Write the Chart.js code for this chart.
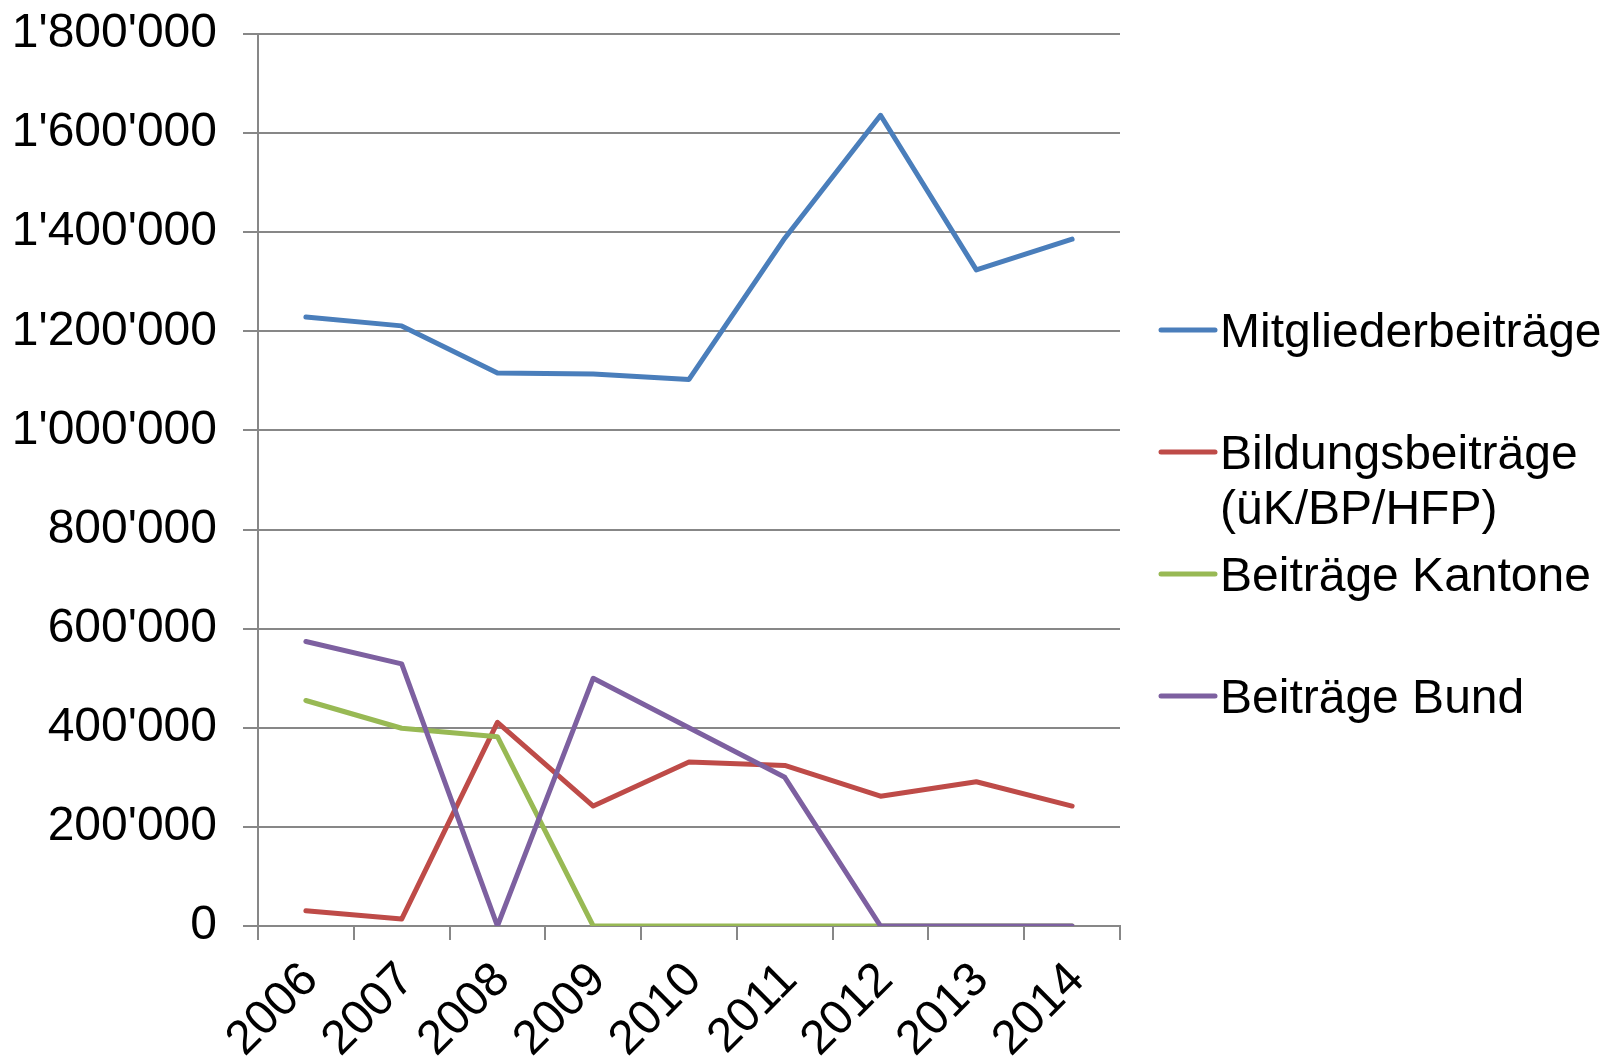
<!DOCTYPE html>
<html lang="de">
<head>
    <meta charset="UTF-8">
    <title>Beiträge 2006-2014</title>
    <script src="https://cdn.jsdelivr.net/npm/chart.js"></script>
    <style>
        html, body { margin: 0; padding: 0; background: #fff; }
        #wrap { width: 1606px; height: 1061px; }
    </style>
</head>
<body>
    <div id="wrap"><canvas id="chart" width="1606" height="1061"></canvas></div>

    <script>
        const years = ['2006', '2007', '2008', '2009', '2010', '2011', '2012', '2013', '2014'];
        const mitglieder = [1229000, 1211000, 1116000, 1114000, 1103000, 1388000, 1636000, 1324000, 1386000];
        const bildung = [31000, 14000, 411000, 242000, 331000, 324000, 262000, 291000, 242000];
        const kantone = [455000, 399000, 382000, 0, 0, 0, 0, 0, 0];
        const bund = [574000, 529000, 0, 500000, 400000, 300000, 0, 0, 0];
        const seriesNames = ['Mitgliederbeiträge', ['Bildungsbeiträge', '(üK/BP/HFP)'], 'Beiträge Kantone', 'Beiträge Bund'];
        const colors = ['#4a7ebb', '#be4b48', '#98b954', '#7d60a0'];

        const font = 'Arial, "Liberation Sans", sans-serif';
        const gridColor = '#878787';

        // legend drawn by hand: Excel spaces the entries unevenly
        const legendRows = [330, 452, 574, 696];
        const sideLegend = {
            id: 'sideLegend',
            afterDraw(chart) {
                const ctx = chart.ctx;
                ctx.save();
                ctx.font = '48px ' + font;
                ctx.fillStyle = '#000';
                ctx.textBaseline = 'alphabetic';
                seriesNames.forEach((name, i) => {
                    const y = legendRows[i];
                    ctx.strokeStyle = colors[i];
                    ctx.lineWidth = 5;
                    ctx.lineCap = 'round';
                    ctx.beginPath();
                    ctx.moveTo(1161, y);
                    ctx.lineTo(1215, y);
                    ctx.stroke();
                    const lines = Array.isArray(name) ? name : [name];
                    lines.forEach((t, j) => ctx.fillText(t, 1220, y + 17 + j * 55));
                });
                ctx.restore();
            }
        };

        function line(label, data, color, order) {
            return {
                label: label,
                data: data,
                borderColor: color,
                backgroundColor: color,
                borderWidth: 5,
                pointRadius: 0,
                tension: 0,
                fill: false,
                borderCapStyle: 'round',
                borderJoinStyle: 'round',
                order: order
            };
        }

        new Chart(document.getElementById('chart'), {
            type: 'line',
            data: {
                labels: years,
                datasets: [
                    line('Mitgliederbeiträge', mitglieder, colors[0], 4),
                    line('Bildungsbeiträge (üK/BP/HFP)', bildung, colors[1], 3),
                    line('Beiträge Kantone', kantone, colors[2], 2),
                    line('Beiträge Bund', bund, colors[3], 1)
                ]
            },
            options: {
                responsive: false,
                animation: false,
                devicePixelRatio: 1,
                layout: { padding: { top: 34, right: 486, left: 0, bottom: 0 } },
                plugins: {
                    legend: { display: false },
                    tooltip: { enabled: false }
                },
                scales: {
                    x: {
                        offset: true,
                        grid: {
                            offset: true,
                            drawOnChartArea: false,
                            drawTicks: true,
                            tickLength: 14,
                            color: gridColor,
                            lineWidth: 2
                        },
                        border: { color: gridColor, width: 2 },
                        ticks: {
                            color: '#000',
                            font: { family: font, size: 48 },
                            maxRotation: 45,
                            minRotation: 45,
                            autoSkip: false,
                            padding: 12,
                            labelOffset: 5
                        },
                        afterFit(scale) { scale.height = 135; }
                    },
                    y: {
                        min: 0,
                        max: 1800000,
                        grid: {
                            color: gridColor,
                            lineWidth: 2,
                            tickLength: 15
                        },
                        border: { color: gridColor, width: 2 },
                        ticks: {
                            stepSize: 200000,
                            color: '#000',
                            // small lineHeight keeps the scale from adding top padding
                            font: { family: font, size: 48, lineHeight: 0.2 },
                            padding: 26,
                            callback: v => String(v).replace(/\B(?=(\d{3})+(?!\d))/g, "'")
                        },
                        afterFit(scale) { scale.width = 258; }
                    }
                }
            },
            plugins: [sideLegend]
        });
    </script>
</body>
</html>
